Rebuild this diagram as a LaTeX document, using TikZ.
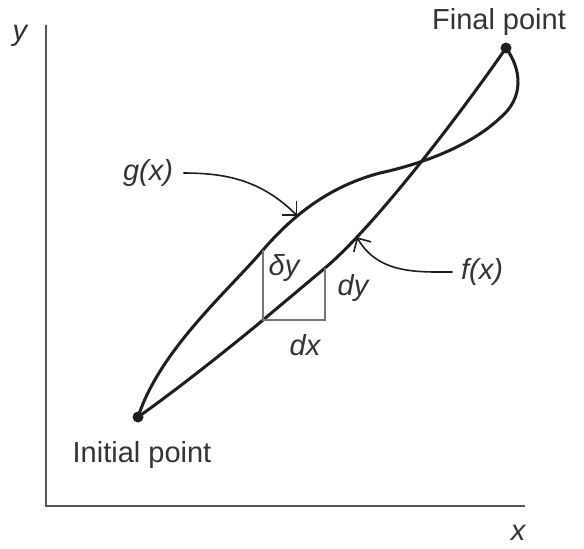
\documentclass[tikz,border=0pt]{standalone}
\usepackage{fontspec}
\setmainfont{Liberation Sans}
\usepackage{tikz}
\usetikzlibrary{arrows.meta}
\definecolor{curveblack}{HTML}{1e1e1e}
\definecolor{axisgray}{HTML}{555555}
\definecolor{trigray}{HTML}{777777}
\definecolor{labelgray}{HTML}{333333}

\begin{document}
\begin{tikzpicture}[
    x=0.5pt, y=-0.5pt,
    curve/.style={draw=curveblack, line width=1.5pt, line join=round},
    axis/.style={draw=axisgray, line width=1pt},
    tri/.style={draw=trigray, line width=0.9pt},
    pointer/.style={draw=curveblack, line width=0.8pt, -{Straight Barb[length=5pt, width=10pt]}},
    dot/.style={circle, fill=curveblack, inner sep=0pt, minimum size=5.5pt},
    lbl/.style={text=labelgray, font=\fontsize{14.5}{17}\selectfont, inner sep=0pt},
    var/.style={text=labelgray, font=\fontsize{14.5}{17}\selectfont\itshape, inner sep=0pt}
]
\useasboundingbox (0,0) rectangle (584,548);

% Axes
\coordinate (origin) at (46,506);
\coordinate (ytop) at (46,25);
\coordinate (xend) at (525,506);
\draw[axis] (ytop) -- (origin) -- (xend);
\node[var] (ylab) at (20,36) {y};
\node[var] (xlab) at (518,533) {x};

% End points
\node[dot] (init) at (138,417) {};
\node[dot] (final) at (506,48) {};
\node[lbl] (initlab) at (142,455) {Initial point};
\node[lbl] (finallab) at (499,22) {Final point};

% Points on the curves
\coordinate (fa) at (263,320);
\coordinate (fb) at (325,268);
\coordinate (ga) at (263,250);
\coordinate (gb) at (380,173);
\coordinate (gc) at (500,118);

% f(x)
\draw[curve] (init.center) .. controls (178,389) and (238,341) .. (fa) -- (fb)
    .. controls (375,226) and (461,113) .. (final.center) coordinate[pos=0.19] (ftip);

% g(x)
\draw[curve] (init.center) .. controls (160,350) and (227,292) .. (ga)
    .. controls (293,215) and (330,186) .. (gb) coordinate[pos=0.35] (gtip)
    .. controls (412,166) and (466,150) .. (gc)
    .. controls (524,98) and (522,70) .. (final.center);

% Triangle
\draw[tri] (ga) -- (fa) -- (fa -| fb) -- (fb);
\node[var] (deltay) at (284,268) {δy};
\node[var] (dylab) at (353,288) {dy};
\node[var] (dxlab) at (305,345) {dx};

% Pointers
\node[var] (glab) at (148,173) {g(x)};
\node[var] (flab) at (482,272) {f(x)};
\draw[pointer, shorten <=5pt] (glab) to[out=0, in=135] (gtip);
\draw[pointer, shorten <=4pt] (flab) to[out=180, in=-60] (ftip);
\end{tikzpicture}
\end{document}
